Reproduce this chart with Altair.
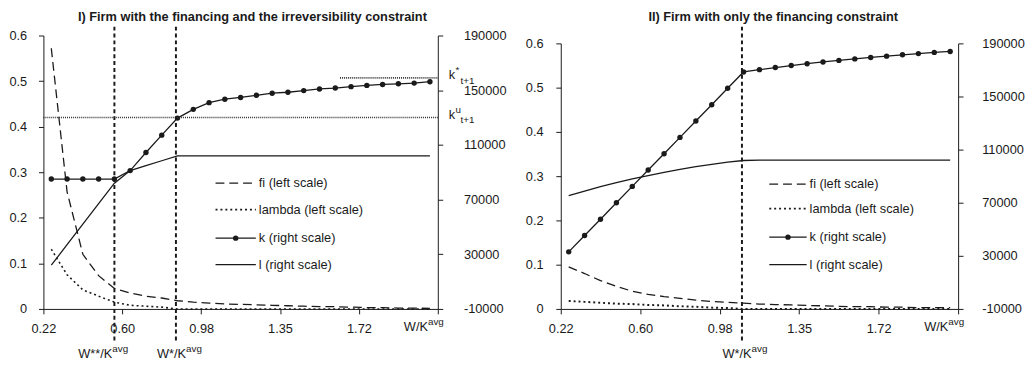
import altair as alt
import pandas as pd

# ---------------- data ----------------
cat = list(range(25))  # 25 wealth-ratio grid points (category positions)
x_tick_pos = [-0.5, 4.5, 9.5, 14.5, 19.5, 24.5]
x_tick_labels = ["0.22", "0.60", "0.98", "1.35", "1.72", ""]
left_ticks = [0, 0.1, 0.2, 0.3, 0.4, 0.5, 0.6]
right_ticks = [-10000, 30000, 70000, 110000, 150000, 190000]
legend_labels = ["fi (left scale)", "lambda (left scale)", "k (right scale)", "l (right scale)"]

# Panel I
title_1 = "I) Firm with the financing and the irreversibility constraint"
fi_1 = [0.572, 0.257, 0.120, 0.073, 0.045, 0.035, 0.028, 0.024, 0.018, 0.015,
        0.013, 0.011, 0.010, 0.009, 0.008, 0.007, 0.006, 0.005, 0.005, 0.004,
        0.003, 0.003, 0.002, 0.002, 0.001]
lambda_1 = [0.131, 0.075, 0.042, 0.028, 0.015, 0.008, 0.006, 0.004, 0.0, 0.0,
            0.0, 0.0, 0.0, 0.0, 0.0, 0.0, 0.0, 0.0, 0.0, 0.0,
            0.0, 0.0, 0.0, 0.0, 0.0]
k_1 = [85000, 85000, 85000, 85000, 85000, 91200, 104400, 117100, 129600, 136000,
       140900, 143400, 144700, 146300, 147800, 148500, 149700, 150900, 151600, 152600,
       153500, 154200, 154700, 155200, 156200]
l_1 = [22000, 37000, 52000, 67000, 82000, 91200, 94800, 98400, 102000, 102000,
       102000, 102000, 102000, 102000, 102000, 102000, 102000, 102000, 102000, 102000,
       102000, 102000, 102000, 102000, 102000]
ku_1 = 130000
kstar_1 = 159000
kstar_1_start = 18.3
w_marks_1 = [4.0, 7.9]

# Panel II
title_2 = "II) Firm with only the financing constraint"
fi_2 = [0.095, 0.080, 0.064, 0.051, 0.040, 0.033, 0.028, 0.024, 0.020, 0.017,
        0.015, 0.013, 0.011, 0.010, 0.009, 0.008, 0.007, 0.006, 0.005, 0.005,
        0.004, 0.004, 0.003, 0.003, 0.003]
lambda_2 = [0.018, 0.016, 0.014, 0.012, 0.011, 0.009, 0.008, 0.006, 0.005, 0.003,
            0.002, 0.0, 0.0, 0.0, 0.0, 0.0, 0.0, 0.0, 0.0, 0.0,
            0.0, 0.0, 0.0, 0.0, 0.0]
k_2 = [33000, 45300, 57600, 70000, 82300, 94600, 106900, 119200, 131500, 143800,
       156200, 168500, 170200, 171800, 173300, 174700, 176000, 177200, 178300, 179400,
       180400, 181400, 182300, 183200, 183900]
l_2 = [75300, 78800, 82100, 85100, 87900, 90500, 92900, 95100, 97100, 98900,
       100600, 101800, 102000, 102000, 102000, 102000, 102000, 102000, 102000, 102000,
       102000, 102000, 102000, 102000, 102000]
w_marks_2 = [10.9]

# ---------------- style ----------------
FONT = "Liberation Sans"
INK = "#1a1a1a"
LW = 1.3

x_expr = "''"
for p, t in reversed(list(zip(x_tick_pos, x_tick_labels))):
    x_expr = f"datum.value == {p} ? '{t}' : ({x_expr})"

x_scale = alt.Scale(domain=[-0.5, 24.5], nice=False, zero=False)
x_axis = alt.Axis(values=x_tick_pos, labelExpr=x_expr, title=None, tickSize=5,
                  labelPadding=9, labelFlush=False, labelOverlap=False, grid=False)

dummy = pd.DataFrame({"d": [0]})


def txt(text, x, y, size=13, align="left", weight="normal"):
    return alt.Chart(dummy).mark_text(
        font=FONT, fontSize=size, align=align, baseline="middle", color=INK, fontWeight=weight
    ).encode(x=alt.value(x), y=alt.value(y), text=alt.value(text))


def panel(fi, lam, k, l, title, width, height, top, title_offset, title_dx, right_extent,
          left_pad, right_pad, w_marks, w_texts, legend_x0, legend_x1, legend_tx,
          legend_ys, wk_x, wk_y, refs, lam_w):
    df = pd.DataFrame({"i": cat, "fi": fi, "lam": lam, "k": k, "l": l})
    X = alt.X("i:Q", scale=x_scale, axis=x_axis)
    yl_scale = alt.Scale(domain=[0, 0.6], nice=False, zero=False, range=[height, top])
    yr_scale = alt.Scale(domain=[-10000, 190000], nice=False, zero=False, range=[height, top])
    yl_axis = alt.Axis(orient="left", values=left_ticks, labelExpr="format(datum.value, '.1~f')",
                       title=None, minExtent=34, maxExtent=34, tickSize=5, labelPadding=left_pad,
                       labelFlush=False, grid=False)
    yr_axis = alt.Axis(orient="right", values=right_ticks,
                       labelExpr="datum.value < 0 ? '-' + format(-datum.value, 'd') : format(datum.value, 'd')",
                       title=None, minExtent=right_extent, maxExtent=right_extent, tickSize=5,
                       labelPadding=right_pad, labelFlush=False, grid=False)
    base = alt.Chart(df)
    fi_line = base.mark_line(strokeDash=[9, 5], strokeWidth=LW, color=INK).encode(
        x=X, y=alt.Y("fi:Q", scale=yl_scale, axis=yl_axis))
    lam_line = base.mark_line(strokeDash=[2, 3], strokeWidth=lam_w, color=INK).encode(
        x=X, y=alt.Y("lam:Q", scale=yl_scale, axis=yl_axis))
    left_group = alt.layer(fi_line, lam_line)

    k_line = base.mark_line(strokeWidth=LW, color=INK,
                            point=alt.OverlayMarkDef(filled=True, size=30, color=INK)).encode(
        x=X, y=alt.Y("k:Q", scale=yr_scale, axis=yr_axis))
    l_line = base.mark_line(strokeWidth=LW, color=INK).encode(
        x=X, y=alt.Y("l:Q", scale=yr_scale, axis=yr_axis))
    right_layers = [k_line, l_line]
    if refs is not None:
        rdf = pd.DataFrame(refs)
        rbase = alt.Chart(rdf)
        right_layers.append(rbase.mark_rule(strokeDash=[1, 1], strokeWidth=1.6, color="#333").encode(
            x=alt.X("x:Q", scale=x_scale, axis=x_axis), x2="x2:Q",
            y=alt.Y("v:Q", scale=yr_scale, axis=yr_axis)))
        right_layers.append(rbase.mark_text(font=FONT, fontSize=13, align="left", baseline="middle",
                                            color=INK, dy=-3).encode(
            x=alt.value(width + 11), y=alt.Y("v:Q", scale=yr_scale, axis=yr_axis), text="k:N"))
        right_layers.append(rbase.mark_text(font=FONT, fontSize=10, align="left", baseline="middle",
                                            color=INK, dy=-8).encode(
            x=alt.value(width + 18), y=alt.Y("v:Q", scale=yr_scale, axis=yr_axis), text="sup:N"))
        right_layers.append(rbase.mark_text(font=FONT, fontSize=10, align="left", baseline="middle",
                                            color=INK, dy=3).encode(
            x=alt.value(width + 23), y=alt.Y("v:Q", scale=yr_scale, axis=yr_axis), text="sub:N"))
    right_group = alt.layer(*right_layers)

    extras = []
    extras.append(alt.Chart(pd.DataFrame({"w": w_marks})).mark_rule(
        strokeDash=[4, 3], strokeWidth=2, color=INK).encode(
        x=alt.X("w:Q", scale=x_scale, axis=x_axis), y=alt.value(-9), y2=alt.value(height + 33)))
    # axis end label W/K^avg
    extras.append(txt("W/K", wk_x, wk_y, 13, "right"))
    extras.append(txt("avg", wk_x, wk_y - 5, 10, "left"))
    for (main, xr, yy) in w_texts:
        extras.append(txt(main, xr, yy, 13, "right"))
        extras.append(txt("avg", xr, yy - 5, 10, "left"))
    # legend
    styles = [dict(strokeDash=[9, 5], strokeWidth=LW), dict(strokeDash=[2, 3], strokeWidth=lam_w),
              dict(strokeWidth=LW), dict(strokeWidth=LW)]
    for lab, yy, st in zip(legend_labels, legend_ys, styles):
        extras.append(alt.Chart(dummy).mark_rule(color=INK, **st).encode(
            x=alt.value(legend_x0), x2=alt.value(legend_x1), y=alt.value(yy)))
        extras.append(txt(lab, legend_tx, yy, 13, "left"))
    extras.append(alt.Chart(dummy).mark_point(filled=True, size=30, color=INK, opacity=1).encode(
        x=alt.value((legend_x0 + legend_x1) / 2), y=alt.value(legend_ys[2])))

    return alt.layer(left_group, right_group, *extras).resolve_scale(y="independent").properties(
        width=width, height=height,
        title=alt.TitleParams(title, offset=title_offset, dx=title_dx, anchor="middle"))


refs_1 = {"x": [-0.5, kstar_1_start], "x2": [24.5, 24.5], "v": [ku_1, kstar_1],
          "k": ["k", "k"], "sup": ["u", "*"], "sub": ["t+1", "t+1"]}

p1 = panel(fi_1, lambda_1, k_1, l_1, title_1, 401, 278, 0, 2, 12, 70, 12, 21,
           w_marks_1, [("W**/K", 70, 324), ("W*/K", 145, 324)],
           175, 216, 219, [150, 177, 206, 233], 391, 296, refs_1, 1.6)
p2 = panel(fi_2, lambda_2, k_2, l_2, title_2, 404, 278, 8, 2, 14, 60, 13, 19,
           w_marks_2, [("W*/K", 194, 324)],
           212, 250, 253, [151, 176, 205, 233], 394, 296, None, 2.0)

chart = alt.hconcat(p1, p2, spacing=18).properties(padding=0).configure_view(
    stroke=None
).configure_axis(
    labelFont=FONT, labelFontSize=13, labelColor=INK, domainColor=INK, tickColor=INK,
    domainWidth=1, tickWidth=1
).configure_title(font=FONT, fontSize=13, fontWeight="bold", color=INK)

chart.save("out.html", embed_options={"renderer": "svg", "actions": False})
